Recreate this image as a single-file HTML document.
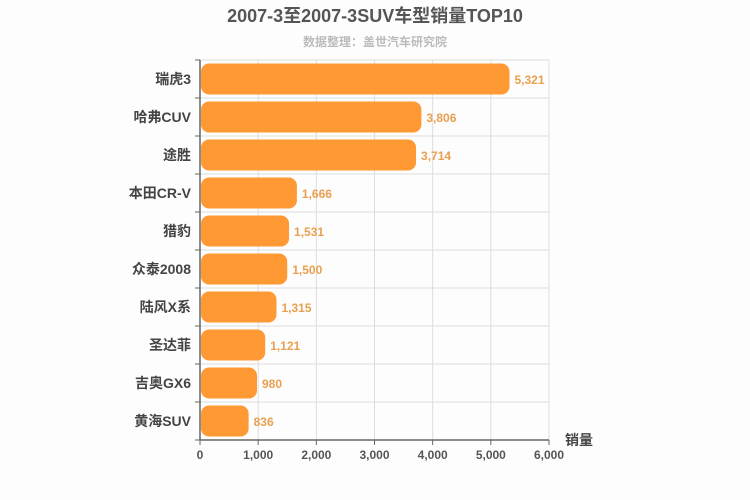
<!DOCTYPE html>
<html><head><meta charset="utf-8"><style>
body{margin:0;background:#fdfdfd;}
svg{display:block;font-family:"Liberation Sans","Noto Sans CJK SC",sans-serif;}
</style></head><body>
<svg id="c" width="750" height="500">
<text x="375" y="22" text-anchor="middle" font-size="18" font-weight="bold" fill="#555">2007-3至2007-3SUV车型销量TOP10</text>
<text x="375" y="46" text-anchor="middle" font-size="12" font-weight="bold" fill="#bbb">数据整理：盖世汽车研究院</text>
<text x="565" y="445" font-size="14" font-weight="bold" fill="#444">销量</text>
</svg>
<script>
const categories=["瑞虎3","哈弗CUV","途胜","本田CR-V","猎豹","众泰2008","陆风X系","圣达菲","吉奥GX6","黄海SUV"];
const values=[5321,3806,3714,1666,1531,1500,1315,1121,980,836];
const ticks=[0,1000,2000,3000,4000,5000,6000];
const tickLabels=["0","1,000","2,000","3,000","4,000","5,000","6,000"];
const svg=document.getElementById('c');
const NS="http://www.w3.org/2000/svg";
const x0=200,x1=549,y0=60,rowH=38,xMax=6000;
const xs=v=>x0+v/xMax*(x1-x0);
const ys=i=>y0+i*rowH;
function mk(t,a,txt){const e=document.createElementNS(NS,t);for(const k in a)e.setAttribute(k,a[k]);if(txt!=null)e.textContent=txt;svg.appendChild(e);return e;}
const yB=ys(categories.length);
ticks.forEach((t,i)=>{
 let g=mk('line',{x1:xs(t),x2:xs(t),y1:y0,y2:yB,stroke:'#ddd'});
 
 
 let tk=mk('line',{x1:xs(t),x2:xs(t),y1:yB,y2:yB+5,stroke:'#666'});
 
 
 let l=mk('text',{x:xs(t),y:yB+19,'text-anchor':'middle','font-size':12,'font-weight':'bold',fill:'#555'},tickLabels[i]);
 
 
});
for(let i=0;i<=categories.length;i++){
 let g=mk('line',{x1:x0-5,x2:x1,y1:ys(i),y2:ys(i),stroke:'#ddd'});
 
 
 let tk=mk('line',{x1:x0-5,x2:x0,y1:ys(i),y2:ys(i),stroke:'#666'});
 
 
}
categories.forEach((c,i)=>{
 const y=ys(i);
 let b=mk('rect',{x:x0+1,y:y+3.5,width:xs(values[i])-x0-1,height:31,rx:8,fill:'#ff9933'});
 
 
 let v=mk('text',{x:xs(values[i])+5,y:y+24,'font-size':12,'font-weight':'bold',fill:'#e8a050'},values[i].toLocaleString('en-US'));
 
 
 let l=mk('text',{x:x0-9,y:y+24,'text-anchor':'end','font-size':14,'font-weight':'bold',fill:'#444'},c);
 
 
});
let ax=mk('line',{x1:x0,x2:x0,y1:y0,y2:yB,stroke:'#666','stroke-width':1.5});


let bx=mk('line',{x1:x0,x2:x1,y1:yB,y2:yB,stroke:'#666','stroke-width':1.5});


</script>
</body></html>
